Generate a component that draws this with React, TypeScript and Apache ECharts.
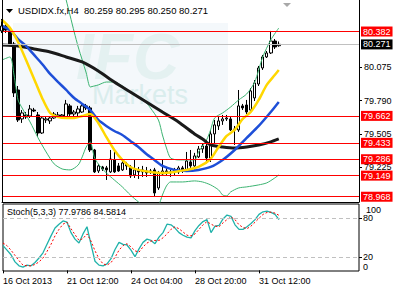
import React, { useEffect, useRef } from 'react';
import * as echarts from 'echarts';

const FONT = '"Liberation Sans", Arial, sans-serif';
const SLOTS = 90;
const tickIndex = [0, 16, 32, 48, 64];
const tickLabels = ['16 Oct 2013', '21 Oct 12:00', '24 Oct 04:00', '28 Oct 20:00', '31 Oct 12:00'];

// [open, close, low, high]
const candles: number[][] = [
  [80.385, 80.427, 80.367, 80.487], [80.427, 80.393, 80.367, 80.444], [80.385, 80.274, 80.257, 80.402],
  [80.274, 79.856, 79.821, 80.291], [79.881, 79.625, 79.608, 79.915], [79.634, 79.685, 79.600, 79.710],
  [79.668, 79.651, 79.634, 79.693], [79.659, 79.719, 79.642, 79.753], [79.710, 79.702, 79.693, 79.728],
  [79.668, 79.514, 79.480, 79.693], [79.514, 79.642, 79.506, 79.659], [79.625, 79.634, 79.600, 79.651],
  [79.617, 79.642, 79.591, 79.659], [79.642, 79.676, 79.634, 79.693], [79.659, 79.668, 79.642, 79.693],
  [79.659, 79.668, 79.642, 79.676], [79.651, 79.762, 79.642, 79.796], [79.745, 79.676, 79.651, 79.762],
  [79.676, 79.693, 79.651, 79.710], [79.685, 79.719, 79.659, 79.745], [79.693, 79.745, 79.685, 79.762],
  [79.745, 79.728, 79.710, 79.762], [79.728, 79.369, 79.352, 79.745], [79.369, 79.182, 79.173, 79.378],
  [79.190, 79.233, 79.173, 79.250], [79.224, 79.207, 79.190, 79.233], [79.216, 79.199, 79.113, 79.233],
  [79.182, 79.292, 79.173, 79.369], [79.284, 79.182, 79.173, 79.369], [79.233, 79.190, 79.182, 79.258],
  [79.199, 79.258, 79.190, 79.284], [79.250, 79.233, 79.199, 79.267], [79.224, 79.147, 79.130, 79.241],
  [79.156, 79.199, 79.130, 79.284], [79.199, 79.182, 79.122, 79.224], [79.182, 79.199, 79.139, 79.233],
  [79.190, 79.173, 79.139, 79.224], [79.182, 79.190, 79.164, 79.207], [79.199, 79.002, 78.968, 79.216],
  [79.045, 79.173, 79.028, 79.190], [79.164, 79.190, 79.147, 79.284], [79.190, 79.173, 79.147, 79.216],
  [79.173, 79.182, 79.139, 79.199], [79.182, 79.199, 79.147, 79.216], [79.182, 79.216, 79.164, 79.233],
  [79.216, 79.190, 79.173, 79.233], [79.190, 79.275, 79.182, 79.352], [79.267, 79.233, 79.216, 79.369],
  [79.233, 79.318, 79.199, 79.344], [79.310, 79.378, 79.301, 79.403], [79.378, 79.403, 79.344, 79.420],
  [79.403, 79.301, 79.258, 79.455], [79.301, 79.506, 79.267, 79.540], [79.506, 79.583, 79.420, 79.625],
  [79.574, 79.617, 79.540, 79.651], [79.617, 79.634, 79.583, 79.668], [79.634, 79.642, 79.617, 79.668],
  [79.634, 79.540, 79.531, 79.651], [79.540, 79.548, 79.412, 79.574], [79.540, 79.745, 79.523, 79.881],
  [79.745, 79.728, 79.710, 79.762], [79.753, 79.693, 79.676, 79.796], [79.710, 79.873, 79.693, 79.898],
  [79.813, 79.941, 79.787, 79.966], [79.932, 80.069, 79.915, 80.086], [80.069, 80.163, 80.052, 80.180],
  [80.163, 80.197, 80.154, 80.214], [80.197, 80.299, 80.188, 80.385], [80.299, 80.248, 80.231, 80.316],
  [80.259, 80.271, 80.250, 80.295],
];

const maFast: number[][] = [
  [0, 80.478], [2, 80.410], [4, 80.291], [6, 80.137], [8, 79.975], [10, 79.813], [12, 79.685], [14, 79.651],
  [16, 79.642], [18, 79.642], [20, 79.659], [22, 79.676], [24, 79.600], [26, 79.480], [28, 79.369], [30, 79.284],
  [32, 79.224], [34, 79.199], [37, 79.182], [40, 79.173], [43, 79.182], [46, 79.199], [49, 79.224], [52, 79.292],
  [54, 79.395], [56, 79.489], [58, 79.540], [60, 79.634], [62, 79.693], [64, 79.796], [66, 79.924], [68, 80.009],
  [69, 80.052],
];
const maMid: number[][] = [
  [0, 80.427], [2, 80.393], [4, 80.316], [6, 80.257], [8, 80.180], [10, 80.103], [12, 80.018], [14, 79.949],
  [16, 79.881], [18, 79.813], [20, 79.762], [22, 79.710], [24, 79.625], [26, 79.574], [28, 79.531], [30, 79.497],
  [32, 79.446], [34, 79.395], [36, 79.335], [38, 79.284], [40, 79.233], [43, 79.199], [46, 79.190], [49, 79.199],
  [52, 79.224], [55, 79.284], [58, 79.369], [61, 79.472], [64, 79.574], [67, 79.693], [69, 79.779],
];
const maSlow: number[][] = [
  [0, 80.265], [4, 80.257], [8, 80.231], [12, 80.205], [16, 80.163], [20, 80.120], [24, 80.043], [28, 79.949],
  [32, 79.864], [36, 79.779], [40, 79.693], [44, 79.608], [48, 79.506], [50, 79.463], [52, 79.412], [55, 79.395],
  [58, 79.386], [61, 79.395], [64, 79.412], [67, 79.438], [69, 79.463],
];
const bandUpper: number[][] = [
  [14, 80.922], [15, 80.786], [16, 80.649], [17, 80.513], [18, 80.376], [19, 80.248], [20, 80.137], [21, 80.026],
  [22, 79.907], [23, 79.915], [24, 79.924], [26, 79.949], [28, 79.949], [30, 79.915], [32, 79.864], [34, 79.821],
  [36, 79.770], [37, 79.728], [39, 79.625], [40, 79.497], [41, 79.386], [42, 79.301], [44, 79.284], [46, 79.284],
  [48, 79.284], [49, 79.352], [51, 79.455], [52, 79.540], [53, 79.642], [55, 79.685], [57, 79.736], [59, 79.796],
  [61, 79.847], [63, 79.949], [65, 80.163], [67, 80.308], [69, 80.410],
];
const bandLower: number[][] = [
  [0, 80.137], [2, 80.163], [3, 80.009], [4, 79.796], [5, 79.728], [7, 79.608], [9, 79.472], [11, 79.352],
  [13, 79.250], [15, 79.207], [17, 79.199], [19, 79.241], [20, 79.310], [21, 79.395], [22, 79.438], [23, 79.310],
  [24, 79.250], [26, 79.173], [28, 79.113], [30, 79.054], [32, 78.985], [34, 78.926], [36, 78.874], [38, 78.857],
  [39, 78.891], [40, 78.985], [41, 79.062], [42, 79.096], [45, 79.096], [48, 79.105], [50, 79.096], [52, 79.071],
  [54, 79.028], [55, 78.985], [56, 78.977], [57, 79.011], [59, 79.045], [61, 79.054], [64, 79.071], [66, 79.088],
  [68, 79.130], [69, 79.156],
];

const stochK = [
  38, 31, 24, 13, 7, 5, 8, 7, 12, 19, 27, 40, 53, 65, 71, 76, 74, 58, 48, 42,
  56, 67, 40, 14, 8, 7, 10, 18, 32, 43, 40, 39, 31, 21, 33, 43, 48, 46, 41, 51,
  58, 71, 70, 65, 58, 54, 51, 50, 61, 69, 75, 78, 58, 68, 69, 79, 85, 83, 70, 63,
  63, 67, 72, 78, 86, 90, 91, 89, 86, 77.98,
];
const stochD = [
  42, 38, 31, 23, 15, 8, 7, 7, 9, 13, 19, 29, 40, 53, 63, 71, 74, 64, 55, 46,
  49, 56, 45, 30, 18, 10, 8, 12, 20, 31, 38, 41, 36, 30, 28, 36, 42, 45, 46, 46,
  50, 56, 63, 67, 64, 59, 54, 53, 56, 63, 70, 75, 71, 68, 67, 73, 78, 82, 78, 70,
  66, 64, 68, 74, 80, 86, 89, 89.5, 88, 84.58,
];

const priceTicks = [80.075, 79.79, 79.505, 79.225];
const redLevels = [80.382, 79.662, 79.433, 79.286, 79.149, 78.968];
const bidLevel = 80.271;
const lastQuote = ['80.259', '80.295', '80.250', '80.271'];
const stochLast = ['77.9786', '84.5814'];
const stochLevels = [20, 80];
const stochScaleTop = '100';
const stochScaleBottom = '0';

export default function App() {
  const ref = useRef<HTMLDivElement>(null);
  useEffect(() => {
    const chart = echarts.init(ref.current!, null, { renderer: 'svg' });
    const cats = Array.from({ length: SLOTS }, (_, i) => String(i));
    const levelLabel = (v: number, bg: string) => ({
      show: true,
      position: 'end',
      formatter: v.toFixed(3),
      color: '#fff',
      backgroundColor: bg,
      padding: [1, 2, 0, 2],
      fontSize: 9,
      fontFamily: FONT,
      distance: 2,
    });
    const lineS = (data: number[][], color: string, width: number) => ({
      type: 'line',
      xAxisIndex: 0,
      yAxisIndex: 0,
      data,
      symbol: 'none',
      smooth: 0.25,
      lineStyle: { color, width },
      silent: true,
    });
    const option: any = {
      animation: false,
      backgroundColor: '#fff',
      textStyle: { fontFamily: FONT },
      grid: [
        { left: 2, width: 357, top: 0, height: 202 },
        { left: 2, width: 357, top: 204, height: 67, show: true, borderColor: '#000', borderWidth: 1 },
      ],
      xAxis: [
        {
          type: 'category', gridIndex: 0, data: cats, boundaryGap: false,
          axisLine: { show: true, lineStyle: { color: '#000' } },
          axisTick: { show: false }, axisLabel: { show: false }, splitLine: { show: false },
        },
        {
          type: 'category', gridIndex: 1, data: cats, boundaryGap: false,
          axisLine: { show: false },
          axisTick: { show: true, length: 3, interval: (i: number) => tickIndex.includes(i), lineStyle: { color: '#000' } },
          axisLabel: {
            interval: (i: number) => tickIndex.includes(i),
            formatter: (_v: string, i: number) => tickLabels[tickIndex.indexOf(i)] ?? '',
            align: 'left', fontSize: 9, color: '#000', margin: 5, fontFamily: FONT,
          },
          splitLine: { show: false },
        },
      ],
      yAxis: [
        {
          type: 'value', gridIndex: 0, position: 'right', min: 78.925, max: 80.649,
          axisLine: { show: true, lineStyle: { color: '#000' } },
          axisTick: { show: true, length: 3, customValues: priceTicks, lineStyle: { color: '#000' } },
          axisLabel: { customValues: priceTicks, formatter: (v: number) => v.toFixed(3), fontSize: 9, color: '#000', margin: 5, fontFamily: FONT },
          splitLine: { show: false },
        },
        {
          type: 'value', gridIndex: 1, position: 'right', min: -1, max: 102,
          axisLine: { show: false },
          axisTick: { show: true, length: 3, customValues: stochLevels, lineStyle: { color: '#000' } },
          axisLabel: {
            customValues: stochLevels,
            formatter: (v: number) => String(v),
            fontSize: 9, lineHeight: 9, color: '#000', margin: 4, fontFamily: FONT,
          },
          splitLine: { show: false },
        },
      ],
      series: [
        {
          type: 'candlestick', xAxisIndex: 0, yAxisIndex: 0, data: candles, barWidth: 3, silent: true,
          itemStyle: { color: '#fff', color0: '#000', borderColor: '#000', borderColor0: '#000', borderWidth: 1 },
          markLine: {
            symbol: 'none', silent: true, animation: false,
            data: [
              { yAxis: bidLevel, lineStyle: { color: '#c0c0c0', width: 1, type: 'solid' }, label: levelLabel(bidLevel, '#000') },
              ...redLevels.map((v) => ({ yAxis: v, lineStyle: { color: '#ff0000', width: 1, type: 'solid' }, label: levelLabel(v, '#ff0000') })),
            ],
          },
        },
        lineS(bandUpper, '#3cb371', 1),
        lineS(bandLower, '#3cb371', 1),
        lineS(maSlow, '#1a1a1a', 3),
        lineS(maMid, '#1e4fd8', 2.5),
        lineS(maFast, '#ffd700', 2.5),
        {
          type: 'line', xAxisIndex: 1, yAxisIndex: 1, data: stochK, symbol: 'none', silent: true,
          lineStyle: { color: '#20b2aa', width: 1.3 },
          markLine: {
            symbol: 'none', silent: true, animation: false, label: { show: false },
            lineStyle: { color: '#c0c0c0', type: [4, 3], width: 1 },
            data: stochLevels.map((v) => ({ yAxis: v })),
          },
        },
        {
          type: 'line', xAxisIndex: 1, yAxisIndex: 1, data: stochD, symbol: 'none', silent: true,
          lineStyle: { color: '#ff0000', width: 1, type: [2, 2] },
        },
      ],
      graphic: [
        { type: 'rect', z: 0, shape: { x: 13, y: 23, width: 215, height: 90 }, style: { fill: '#f4f8fb' } },
        { type: 'text', z: 1, left: 76, top: 25, style: { text: 'IFC', fontSize: 64, lineHeight: 46, fontWeight: 'bold', fontStyle: 'italic', fontFamily: FONT, fill: '#e4f1f1' } },
        { type: 'text', z: 1, left: 92, top: 81, style: { text: 'Markets', fontSize: 27, lineHeight: 20, fontFamily: FONT, fill: '#daeded' } },
        { type: 'line', z: 50, shape: { x1: 2.5, y1: 0, x2: 2.5, y2: 202 }, style: { stroke: '#000', lineWidth: 1 } },
        { type: 'polygon', z: 100, shape: { points: [[6, 9], [13, 9], [9.5, 13]] }, style: { fill: '#000' } },
        { type: 'polygon', z: 100, shape: { points: [[283, 3], [291, 3], [287, 7]] }, style: { fill: '#a8a8a8' } },
        {
          type: 'text', z: 100, left: 18, top: 5,
          style: { text: `USDIDX.fx,H4  ${lastQuote.join(' ')}`, fontSize: 9.5, fontFamily: FONT, fill: '#000' },
        },
        {
          type: 'text', z: 100, left: 7, top: 207,
          style: { text: `Stoch(5,3,3) ${stochLast.join(' ')}`, fontSize: 9, fontFamily: FONT, fill: '#000' },
        },
        { type: 'text', z: 100, left: 366, top: 205, style: { text: stochScaleTop, fontSize: 9, lineHeight: 9, fontFamily: FONT, fill: '#000' } },
        { type: 'text', z: 100, left: 363, top: 262, style: { text: stochScaleBottom, fontSize: 9, lineHeight: 8, fontFamily: FONT, fill: '#000' } },
      ],
    };
    chart.setOption(option);
    return () => chart.dispose();
  }, []);
  return <div ref={ref} style={{ position: 'fixed', left: 0, top: 0, width: 399, height: 289, background: '#fff' }} />;
}
